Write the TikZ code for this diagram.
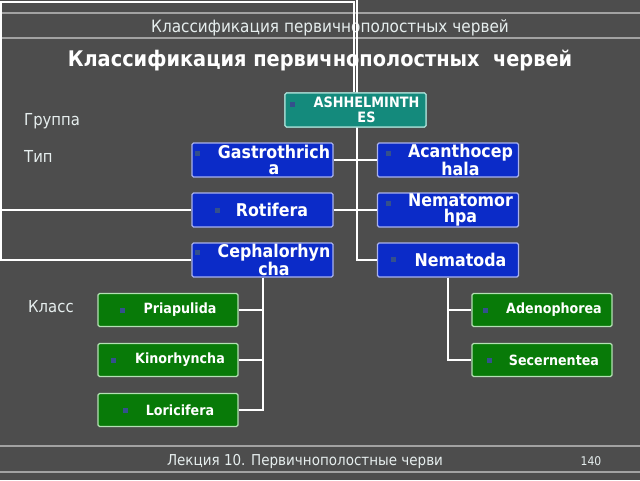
\documentclass[tikz,border=0pt]{standalone}
\usepackage{fontspec}
\setmainfont{DejaVu Sans}
\newfontfamily\cnd[FakeStretch=0.9]{DejaVu Sans}
\newfontfamily\bxf[FakeStretch=0.9]{DejaVu Sans}
\definecolor{bg}{HTML}{4D4D4D}
\definecolor{rulec}{HTML}{A2A2A2}
\definecolor{blueb}{HTML}{0B2BC8}
\definecolor{bluebd}{HTML}{A9B2EE}
\definecolor{greenb}{HTML}{087A08}
\definecolor{greenbd}{HTML}{B4E0B4}
\definecolor{tealb}{HTML}{148A7C}
\definecolor{tealbd}{HTML}{A8DCD4}
\definecolor{txt}{HTML}{E6EEEE}
\definecolor{bul}{HTML}{34508C}
\tikzset{
  box/.style={line width=1.2pt, rounded corners=1.5pt, minimum width=141pt, minimum height=34pt, inner sep=0pt},
  bluebox/.style={box, fill=blueb, draw=bluebd},
  greenbox/.style={box, fill=greenb, draw=greenbd, minimum width=140pt, minimum height=33pt},
  tealbox/.style={box, fill=tealb, draw=tealbd},
  blbl/.style={text=white, align=center, inner sep=0pt, font=\bxf\bfseries\fontsize{17.6}{16.5}\selectfont},
  glbl/.style={text=white, align=center, inner sep=0pt, font=\bxf\bfseries\fontsize{14.1}{15}\selectfont},
  tlbl/.style={text=white, align=center, inner sep=0pt, font=\bxf\bfseries\fontsize{14.3}{15}\selectfont},
  bulletsq/.style={fill=bul, minimum size=5pt, inner sep=0pt},
  conn/.style={draw=white, line width=2pt},
  rulel/.style={draw=rulec, line width=1.5pt},
  plain/.style={text=txt, inner sep=0pt, anchor=base}
}
\begin{document}
\begin{tikzpicture}[x=1pt,y=-1pt]
\useasboundingbox (0,0) rectangle (640,480);
\fill[bg] (0,0) rectangle (640,480);
% rules
\draw[rulel] (0,13) -- (640,13);
\draw[rulel] (0,38) -- (640,38);
\draw[rulel] (0,446) -- (640,446);
\draw[rulel] (0,472) -- (640,472);
% texts
\node[plain, font=\cnd\fontsize{17}{19}\selectfont] (title) at (330,32) {Классификация первичнополостных червей};
\node[plain, text=white, font=\cnd\bfseries\fontsize{21.5}{24}\selectfont] (head) at (320,66) {Классификация первичнополостных\ \ червей};
\node[plain, anchor=base west, font=\cnd\fontsize{16.5}{18}\selectfont] (grp) at (24,125) {Группа};
\node[plain, anchor=base west, font=\cnd\fontsize{16.5}{18}\selectfont] (tip) at (24,162) {Тип};
\node[plain, anchor=base west, font=\cnd\fontsize{16.5}{18}\selectfont] (kls) at (28,312) {Класс};
\node[plain, font=\cnd\fontsize{15}{17}\selectfont] (foot) at (305,465) {Лекция 10. Первичнополостные черви};
\node[plain, font=\cnd\fontsize{12}{14}\selectfont] (page) at (591,465) {140};
% boxes
\node[tealbox] (ash) at (355.5,110) {};
\node[bluebox] (gas) at (262.5,160) {};
\node[bluebox] (rot) at (262.5,210) {};
\node[bluebox] (cep) at (262.5,260) {};
\node[bluebox] (aca) at (448,160) {};
\node[bluebox] (nmm) at (448,210) {};
\node[bluebox] (nem) at (448,260) {};
\node[greenbox] (pri) at (168,310) {};
\node[greenbox] (kin) at (168,360) {};
\node[greenbox] (lor) at (168,410) {};
\node[greenbox] (ade) at (542,310) {};
\node[greenbox] (sec) at (542,360) {};
% connectors
\coordinate (c1) at (1,2);
\coordinate (c2) at (354,2);
\coordinate (t0) at (357,0);
\draw[conn] (rot.west) -| (c1) -- (c2) -- (c2 |- ash.north);
\draw[conn] (cep.west) -| (c1);
\draw[conn] (t0) |- (nem.west);
\draw[conn] (gas.east) -- (aca.west);
\draw[conn] (rot.east) -- (nmm.west);
\draw[conn] (cep.south) |- (pri.east);
\draw[conn] (cep.south) |- (kin.east);
\draw[conn] (cep.south) |- (lor.east);
\draw[conn] (nem.south) |- (ade.west);
\draw[conn] (nem.south) |- (sec.west);
% redraw teal box on top of trunk
\node[tealbox] (ashT) at (ash) {};
\node[tlbl] (ashL) at (366.5,110) {ASHHELMINTH\\ES};
\node[bulletsq] (ashB) at (292,104) {};
\node[blbl] (gasL) at (274,160) {Gastrothrich\\a};
\node[bulletsq] (gasB) at (197,153) {};
\node[blbl] (rotL) at (272,210) {Rotifera};
\node[bulletsq] (rotB) at (217,210) {};
\node[blbl] (cepL) at (274,260) {Cephalorhyn\\cha};
\node[bulletsq] (cepB) at (197,252) {};
\node[blbl] (acaL) at (460.5,160) {Acanthocep\\hala};
\node[bulletsq] (acaB) at (388,153) {};
\node[blbl] (nmmL) at (460.5,210) {Nematomor\\hpa};
\node[bulletsq] (nmmB) at (388,203) {};
\node[blbl] (nemL) at (460.5,260) {Nematoda};
\node[bulletsq] (nemB) at (393,259) {};
\node[glbl] (priL) at (180,310) {Priapulida};
\node[bulletsq] (priB) at (122,310) {};
\node[glbl] (kinL) at (180,360) {Kinorhyncha};
\node[bulletsq] (kinB) at (113,360) {};
\node[glbl] (lorL) at (180,410) {Loricifera};
\node[bulletsq] (lorB) at (125,410) {};
\node[glbl] (adeL) at (554,310) {Adenophorea};
\node[bulletsq] (adeB) at (485,310) {};
\node[glbl] (secL) at (554,360) {Secernentea};
\node[bulletsq] (secB) at (489,360) {};
\end{tikzpicture}
\end{document}
